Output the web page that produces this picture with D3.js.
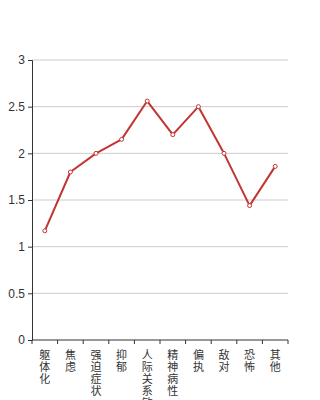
<!DOCTYPE html>
<html>
<head>
<meta charset="utf-8">
<script src="https://cdn.jsdelivr.net/npm/d3@7"></script>
<style>
  body { margin: 0; background: #fff; }
  svg { display: block; font-family: "Noto Sans CJK SC", "Noto Sans", sans-serif; }
</style>
</head>
<body>
<svg id="chart" width="320" height="400"></svg>
<script>
const categories = ['躯体化', '焦虑', '强迫症状', '抑郁', '人际关系敏感', '精神病性', '偏执', '敌对', '恐怖', '其他'];
const values = [1.17, 1.8, 2.0, 2.15, 2.56, 2.2, 2.5, 2.0, 1.44, 1.86];
const yTicks = [0, 0.5, 1, 1.5, 2, 2.5, 3];

const margin = {top: 60, right: 32, bottom: 60, left: 32};
const width = 320, height = 400;
const svg = d3.select('#chart');

const x = d3.scaleBand()
    .domain(categories)
    .range([margin.left, width - margin.right]);

const y = d3.scaleLinear()
    .domain([0, 3])
    .range([height - margin.bottom, margin.top]);

// grid lines
svg.append('g')
    .selectAll('line')
    .data(yTicks.filter(d => d > 0))
    .enter()
    .append('line')
    .attr('x1', margin.left)
    .attr('x2', width - margin.right)
    .attr('y1', d => y(d))
    .attr('y2', d => y(d))
    .attr('stroke', '#ccc')
    .attr('stroke-width', 1);

// y axis
const yAxis = svg.append('g')
    .attr('transform', 'translate(' + margin.left + ',0)')
    .call(d3.axisLeft(y).tickValues(yTicks).tickSize(4).tickPadding(3).tickFormat(d3.format('')));
yAxis.select('.domain').attr('stroke', '#333');
yAxis.selectAll('.tick line').attr('stroke', '#333');
yAxis.selectAll('.tick text').attr('fill', '#333').style('font-size', '12px');

// x axis
const xAxis = svg.append('g')
    .attr('transform', 'translate(0,' + y(0) + ')');
xAxis.append('line')
    .attr('x1', margin.left)
    .attr('x2', width - margin.right)
    .attr('stroke', '#333');
xAxis.selectAll('.xtick')
    .data(d3.range(categories.length + 1))
    .enter()
    .append('line')
    .attr('x1', i => margin.left + i * x.step())
    .attr('x2', i => margin.left + i * x.step())
    .attr('y1', 0)
    .attr('y2', 4)
    .attr('stroke', '#333');

// vertical labels, one character per line
const labels = xAxis.selectAll('.xlabel')
    .data(categories)
    .enter()
    .append('text')
    .attr('fill', '#333')
    .attr('text-anchor', 'middle')
    .style('font-size', '11px');
labels.selectAll('tspan')
    .data(d => d.split(''))
    .enter()
    .append('tspan')
    .attr('x', function() { return x(d3.select(this.parentNode).datum()) + x.bandwidth() / 2; })
    .attr('y', (d, i) => 18.5 + i * 12)
    .text(d => d);

// line
const line = d3.line()
    .x((d, i) => x(categories[i]) + x.bandwidth() / 2)
    .y(d => y(d));

svg.append('path')
    .datum(values)
    .attr('d', line)
    .attr('fill', 'none')
    .attr('stroke', '#c23531')
    .attr('stroke-width', 2)
    .attr('stroke-linejoin', 'round');

svg.append('g')
    .selectAll('circle')
    .data(values)
    .enter()
    .append('circle')
    .attr('cx', (d, i) => x(categories[i]) + x.bandwidth() / 2)
    .attr('cy', d => y(d))
    .attr('r', 2)
    .attr('fill', '#fff')
    .attr('stroke', '#c23531')
    .attr('stroke-width', 1);
</script>
</body>
</html>
